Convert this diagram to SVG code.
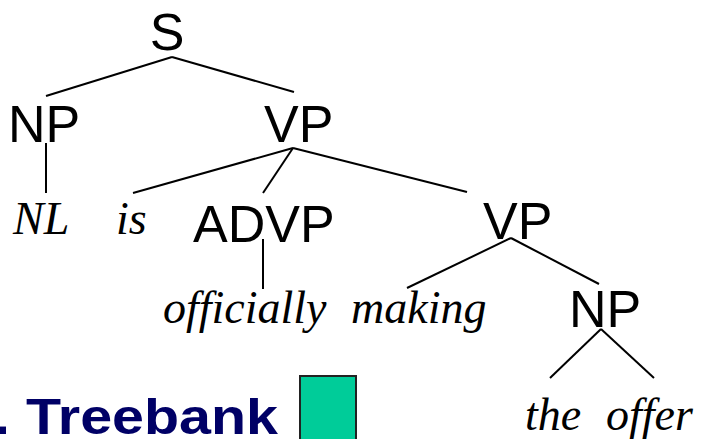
<svg xmlns="http://www.w3.org/2000/svg" width="702" height="439" viewBox="0 0 702 439">
<style>
.cat{font-family:"Liberation Sans",Arial,sans-serif;font-size:52px;fill:#000}
.word{font-family:"Liberation Serif","Times New Roman",serif;font-style:italic;font-size:46px;fill:#000}
.edge{stroke:#000;stroke-width:2;fill:none}
.title{font-family:"Liberation Sans",Arial,sans-serif;font-weight:bold;font-size:50px;fill:#000066}
</style>
<rect width="702" height="439" fill="#fff"/>
<g id="connectors">
<line class="edge" x1="172" y1="57" x2="46" y2="96"/>
<line class="edge" x1="172" y1="57" x2="294" y2="92"/>
<line class="edge" x1="46" y1="143" x2="46" y2="193"/>
<line class="edge" x1="293" y1="148" x2="133" y2="193"/>
<line class="edge" x1="293" y1="148" x2="263" y2="193"/>
<line class="edge" x1="293" y1="148" x2="467" y2="192"/>
<line class="edge" x1="263" y1="239" x2="263" y2="289"/>
<line class="edge" x1="511" y1="238" x2="407" y2="288"/>
<line class="edge" x1="511" y1="238" x2="599" y2="284"/>
<line class="edge" x1="601" y1="329" x2="550" y2="378"/>
<line class="edge" x1="601" y1="329" x2="654" y2="378"/>
</g>
<g id="S"><text class="cat" x="167" y="50" text-anchor="middle">S</text></g>
<g id="NP1"><text class="cat" x="8" y="142">NP</text></g>
<g id="VP1"><text class="cat" x="264" y="142">VP</text></g>
<g id="NL"><text class="word" x="13" y="234">NL</text></g>
<g id="is"><text class="word" x="116" y="234">is</text></g>
<g id="ADVP"><text class="cat" x="193" y="242">ADVP</text></g>
<g id="VP2"><text class="cat" x="483" y="239">VP</text></g>
<g id="officially"><text class="word" x="163" y="323">officially</text></g>
<g id="making"><text class="word" x="351" y="323">making</text></g>
<g id="NP2"><text class="cat" x="569" y="327">NP</text></g>
<g id="the"><text class="word" x="525" y="430">the</text></g>
<g id="offer"><text class="word" x="606" y="430">offer</text></g>
<g id="title"><text class="title" x="-6" y="434" textLength="284" lengthAdjust="spacingAndGlyphs">. Treebank</text></g>
<g id="box"><rect x="300" y="376" width="56" height="70" fill="#00CC99" stroke="#222" stroke-width="2"/></g>
</svg>
